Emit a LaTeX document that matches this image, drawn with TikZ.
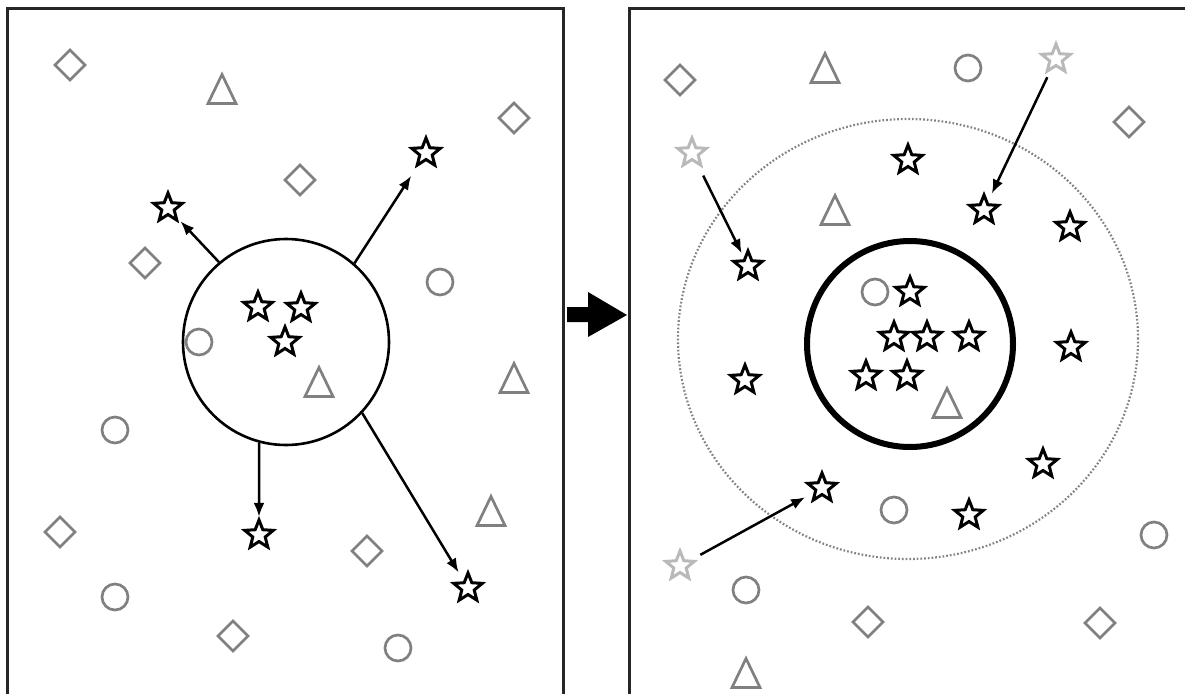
\documentclass[tikz,border=0pt]{standalone}
\usetikzlibrary{shapes.geometric,arrows.meta}
\definecolor{shapegray}{RGB}{128,128,128}
\definecolor{palegray}{RGB}{185,185,185}
\definecolor{dotgray}{RGB}{130,130,130}
\begin{document}
\begin{tikzpicture}[x=1pt,y=-1pt,
  shp/.style={draw=shapegray, line width=2.7pt, inner sep=0pt, outer sep=0pt},
  dia/.style={shp, diamond, minimum size=30pt},
  circ/.style={shp, circle, minimum size=26pt},
  starshape/.style={star, star points=5, star point ratio=2.3, minimum size=30pt, inner sep=0pt, outer sep=0pt, line width=3pt},
  blackstar/.style={circle, minimum size=34pt, inner sep=0pt, label={[starshape, draw=black]center:{}}},
  palestar/.style={circle, minimum size=34pt, inner sep=0pt, label={[starshape, draw=palegray]center:{}}},
  arr/.style={line width=2.5pt, -{Latex[length=14pt,width=11pt]}, shorten >=1pt},
  panel/.style={line width=3pt, draw=black!85},
  tri/.pic={\draw[draw=shapegray, line width=2.7pt, line join=miter] (-14,14.5) -- (0,-14.5) -- (14,14.5) -- cycle;}
]
\useasboundingbox (0,0) rectangle (1185,693);

% panels
\coordinate (lp1) at (7,700);
\coordinate (lp2) at (7,9);
\coordinate (lp3) at (563,9);
\coordinate (lp4) at (563,700);
\draw[panel] (lp1) -- (lp2) -- (lp3) -- (lp4);
\coordinate (rp1) at (629,700);
\coordinate (rp2) at (629,9);
\coordinate (rp3) at (1195,9);
\draw[panel] (rp1) -- (rp2) -- (rp3);

% block arrow between panels
\fill[black] (567,307) -- (588,307) -- (588,292) -- (627,315) -- (588,337) -- (588,322) -- (567,322) -- cycle;

% ---------------- left panel ----------------
\node[dia] (ld1) at (70,65) {};
\node[dia] (ld2) at (514,118) {};
\node[dia] (ld3) at (300,180) {};
\node[dia] (ld4) at (145,263) {};
\node[dia] (ld5) at (60,532) {};
\node[dia] (ld6) at (367,551) {};
\node[dia] (ld7) at (233,636) {};

\node[circ] (lc1) at (440,282) {};
\node[circ] (lc2) at (199,342) {};
\node[circ] (lc3) at (115,430) {};
\node[circ] (lc4) at (115,597) {};
\node[circ] (lc5) at (398,648) {};

\pic at (222,89) {tri};
\pic at (319,382) {tri};
\pic at (514,378) {tri};
\pic at (491,511) {tri};

\node[circle, draw=black, line width=2.6pt, minimum size=206pt, inner sep=0pt] (bigc) at (286,342) {};

\node[blackstar] (ls1) at (168,208) {};
\node[blackstar] (ls2) at (426,153) {};
\node[blackstar] (ls3) at (259,535) {};
\node[blackstar] (ls4) at (468,588) {};
\node[blackstar] (li1) at (258,307) {};
\node[blackstar] (li2) at (301,308) {};
\node[blackstar] (li3) at (285,342) {};

\draw[arr] (bigc.130) -- (ls1);
\draw[arr, shorten >=10pt] (bigc.49) -- (ls2);
\draw[arr] (bigc.255) -- (ls3);
\draw[arr] (bigc.317) -- (ls4);

% ---------------- right panel ----------------
\node[ellipse, draw=dotgray, line width=2.2pt, dash pattern=on 1.7pt off 2pt, minimum width=460pt, minimum height=440pt, inner sep=0pt] (zone) at (908,339) {};

\node[dia] (rd1) at (680,80) {};
\node[dia] (rd2) at (1129,122) {};
\node[dia] (rd3) at (868,622) {};
\node[dia] (rd4) at (1100,623) {};

\node[circ] (rc1) at (968,68) {};
\node[circ] (rc2) at (875,292) {};
\node[circ] (rc3) at (894,510) {};
\node[circ] (rc4) at (746,590) {};
\node[circ] (rc5) at (1154,535) {};

\pic at (825,68) {tri};
\pic at (835,210) {tri};
\pic at (947,403) {tri};
\pic at (746,673) {tri};

\node[circle, draw=black, line width=6pt, minimum size=206pt, inner sep=0pt] (core) at (910,344) {};

\node[palestar] (g1) at (1056,59) {};
\node[palestar] (g2) at (692,153) {};
\node[palestar] (g3) at (680,566) {};

\node[blackstar] (r1) at (908,160) {};
\node[blackstar] (r2) at (984,210) {};
\node[blackstar] (r3) at (1070,227) {};
\node[blackstar] (r4) at (748,266) {};
\node[blackstar] (r5) at (910,292) {};
\node[blackstar] (r6) at (894,337) {};
\node[blackstar] (r7) at (927,337) {};
\node[blackstar] (r8) at (969,337) {};
\node[blackstar] (r9) at (1071,347) {};
\node[blackstar] (r10) at (745,380) {};
\node[blackstar] (r11) at (866,376) {};
\node[blackstar] (r12) at (907,376) {};
\node[blackstar] (r13) at (1043,464) {};
\node[blackstar] (r14) at (822,488) {};
\node[blackstar] (r15) at (969,515) {};

\draw[arr, shorten <=3pt] (g1) -- (r2);
\draw[arr, shorten <=8pt, shorten >=-3pt] (g2) -- (r4);
\draw[arr, shorten <=6pt, shorten >=2pt] (g3) -- (r14);
\end{tikzpicture}
\end{document}
